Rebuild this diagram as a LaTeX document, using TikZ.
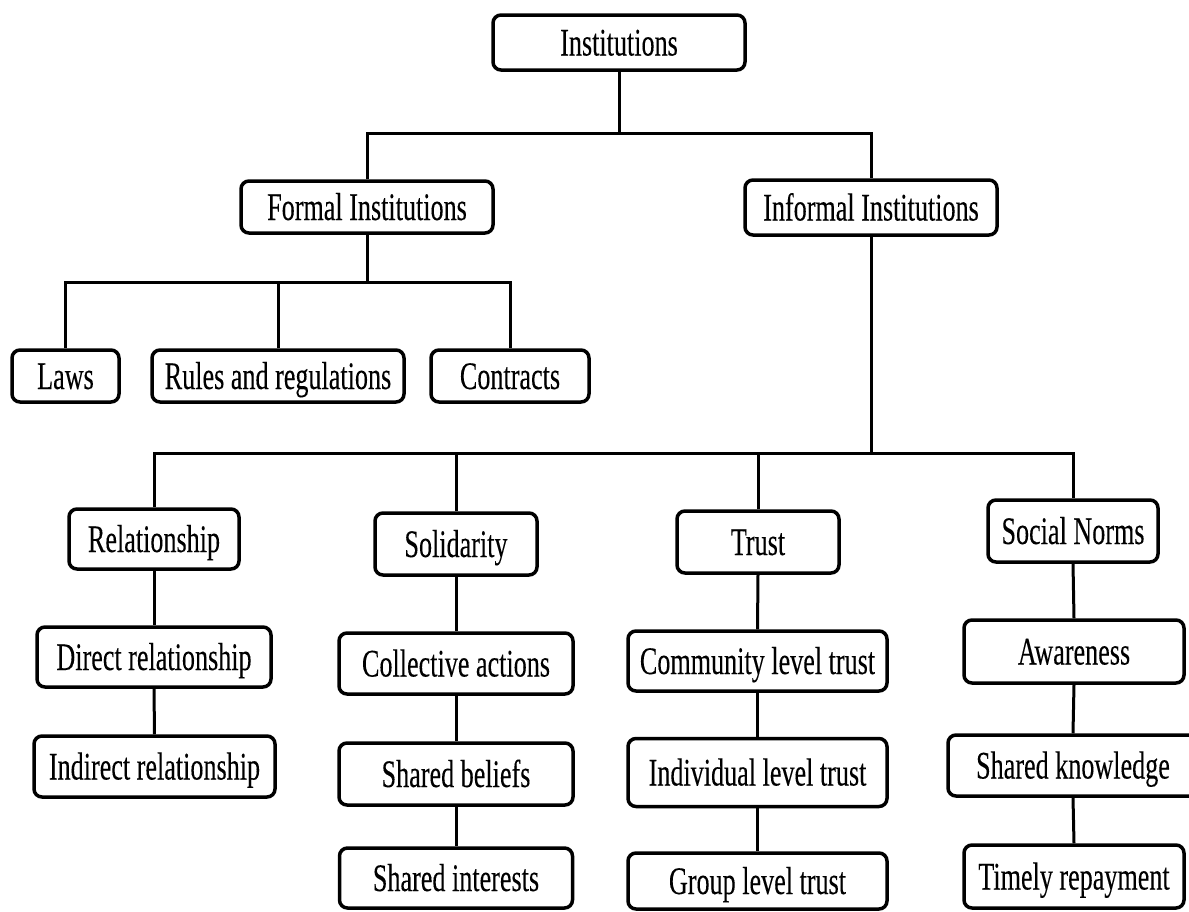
\documentclass[tikz,border=0pt]{standalone}
\usepackage{fontspec}
\setmainfont{Liberation Serif}[FakeStretch=0.67,FakeBold=0.15]
\begin{document}
\begin{tikzpicture}[x=1pt,y=-1pt,
  box/.style={draw=black, line width=3.5pt, rounded corners=8pt, fill=white,
    inner sep=0pt, text height=26pt, text depth=0pt,
    font=\fontsize{39}{41}\selectfont, text=black},
  conn/.style={draw=black, line width=3pt}]
\useasboundingbox (0,0) rectangle (1189,911);
% level 0 and 1
\node[box, minimum width=252pt, minimum height=55pt] (inst) at (619,42.5) {Institutions};
\node[box, minimum width=252pt, minimum height=52pt] (formal) at (367,207) {Formal Institutions};
\node[box, minimum width=252pt, minimum height=55pt] (informal) at (871,207.5) {Informal Institutions};
% formal children
\node[box, minimum width=107pt, minimum height=52pt] (laws) at (65.5,376) {Laws};
\node[box, minimum width=252pt, minimum height=52pt] (rules) at (278,376) {Rules and regulations};
\node[box, minimum width=158pt, minimum height=52pt] (contracts) at (510,376) {Contracts};
% informal children
\node[box, minimum width=170pt, minimum height=60pt] (rel) at (154,539) {Relationship};
\node[box, minimum width=162pt, minimum height=62pt] (sol) at (456,544) {Solidarity};
\node[box, minimum width=162pt, minimum height=62pt] (trust) at (758,542) {Trust};
\node[box, minimum width=170pt, minimum height=62pt] (norms) at (1073,531) {Social Norms};
% relationship chain
\node[box, minimum width=234pt, minimum height=60pt] (direct) at (154,657) {Direct relationship};
\node[box, minimum width=241pt, minimum height=61pt] (indirect) at (154.5,766.5) {Indirect relationship};
% solidarity chain
\node[box, minimum width=234pt, minimum height=61pt] (coll) at (456,663.5) {Collective actions};
\node[box, minimum width=234pt, minimum height=62pt] (beliefs) at (456,774) {Shared beliefs};
\node[box, minimum width=233pt, minimum height=60pt] (interests) at (456,878) {Shared interests};
% trust chain
\node[box, minimum width=259pt, minimum height=60pt] (comm) at (757.5,661) {Community level trust};
\node[box, minimum width=259pt, minimum height=68pt] (indiv) at (757.5,772.5) {Individual level trust};
\node[box, minimum width=259pt, minimum height=56pt] (group) at (757.5,881) {Group level trust};
% norms chain
\node[box, minimum width=220pt, minimum height=63pt] (aware) at (1074,651.5) {Awareness};
\node[box, minimum width=250pt, minimum height=61pt] (know) at (1073,765.5) {Shared knowledge};
\node[box, minimum width=220pt, minimum height=63pt] (timely) at (1074,876.5) {Timely repayment};
% bus coordinates
\coordinate (b1) at (619,133);
\coordinate (b2) at (367,282);
\coordinate (b3) at (871,453);
% connectors
\draw[conn] (inst.south) -- (b1);
\draw[conn] (formal.north) |- (b1) -| (informal.north);
\draw[conn] (formal.south) -- (b2);
\draw[conn] (laws.north) |- (b2) -| (contracts.north);
\draw[conn] (rules.north) -- (rules.north |- b2);
\draw[conn] (informal.south) -- (b3);
\draw[conn] (rel.north) |- (b3) -| (norms.north);
\draw[conn] (sol.north) -- (sol.north |- b3);
\draw[conn] (trust.north) -- (trust.north |- b3);
\draw[conn] (rel.south) -- (direct.north);
\draw[conn] (direct.south) -- (indirect.north);
\draw[conn] (sol.south) -- (coll.north);
\draw[conn] (coll.south) -- (beliefs.north);
\draw[conn] (beliefs.south) -- (interests.north);
\draw[conn] (trust.south) -- (comm.north);
\draw[conn] (comm.south) -- (indiv.north);
\draw[conn] (indiv.south) -- (group.north);
\draw[conn] (norms.south) -- (aware.north);
\draw[conn] (aware.south) -- (know.north);
\draw[conn] (know.south) -- (timely.north);
\end{tikzpicture}
\end{document}
